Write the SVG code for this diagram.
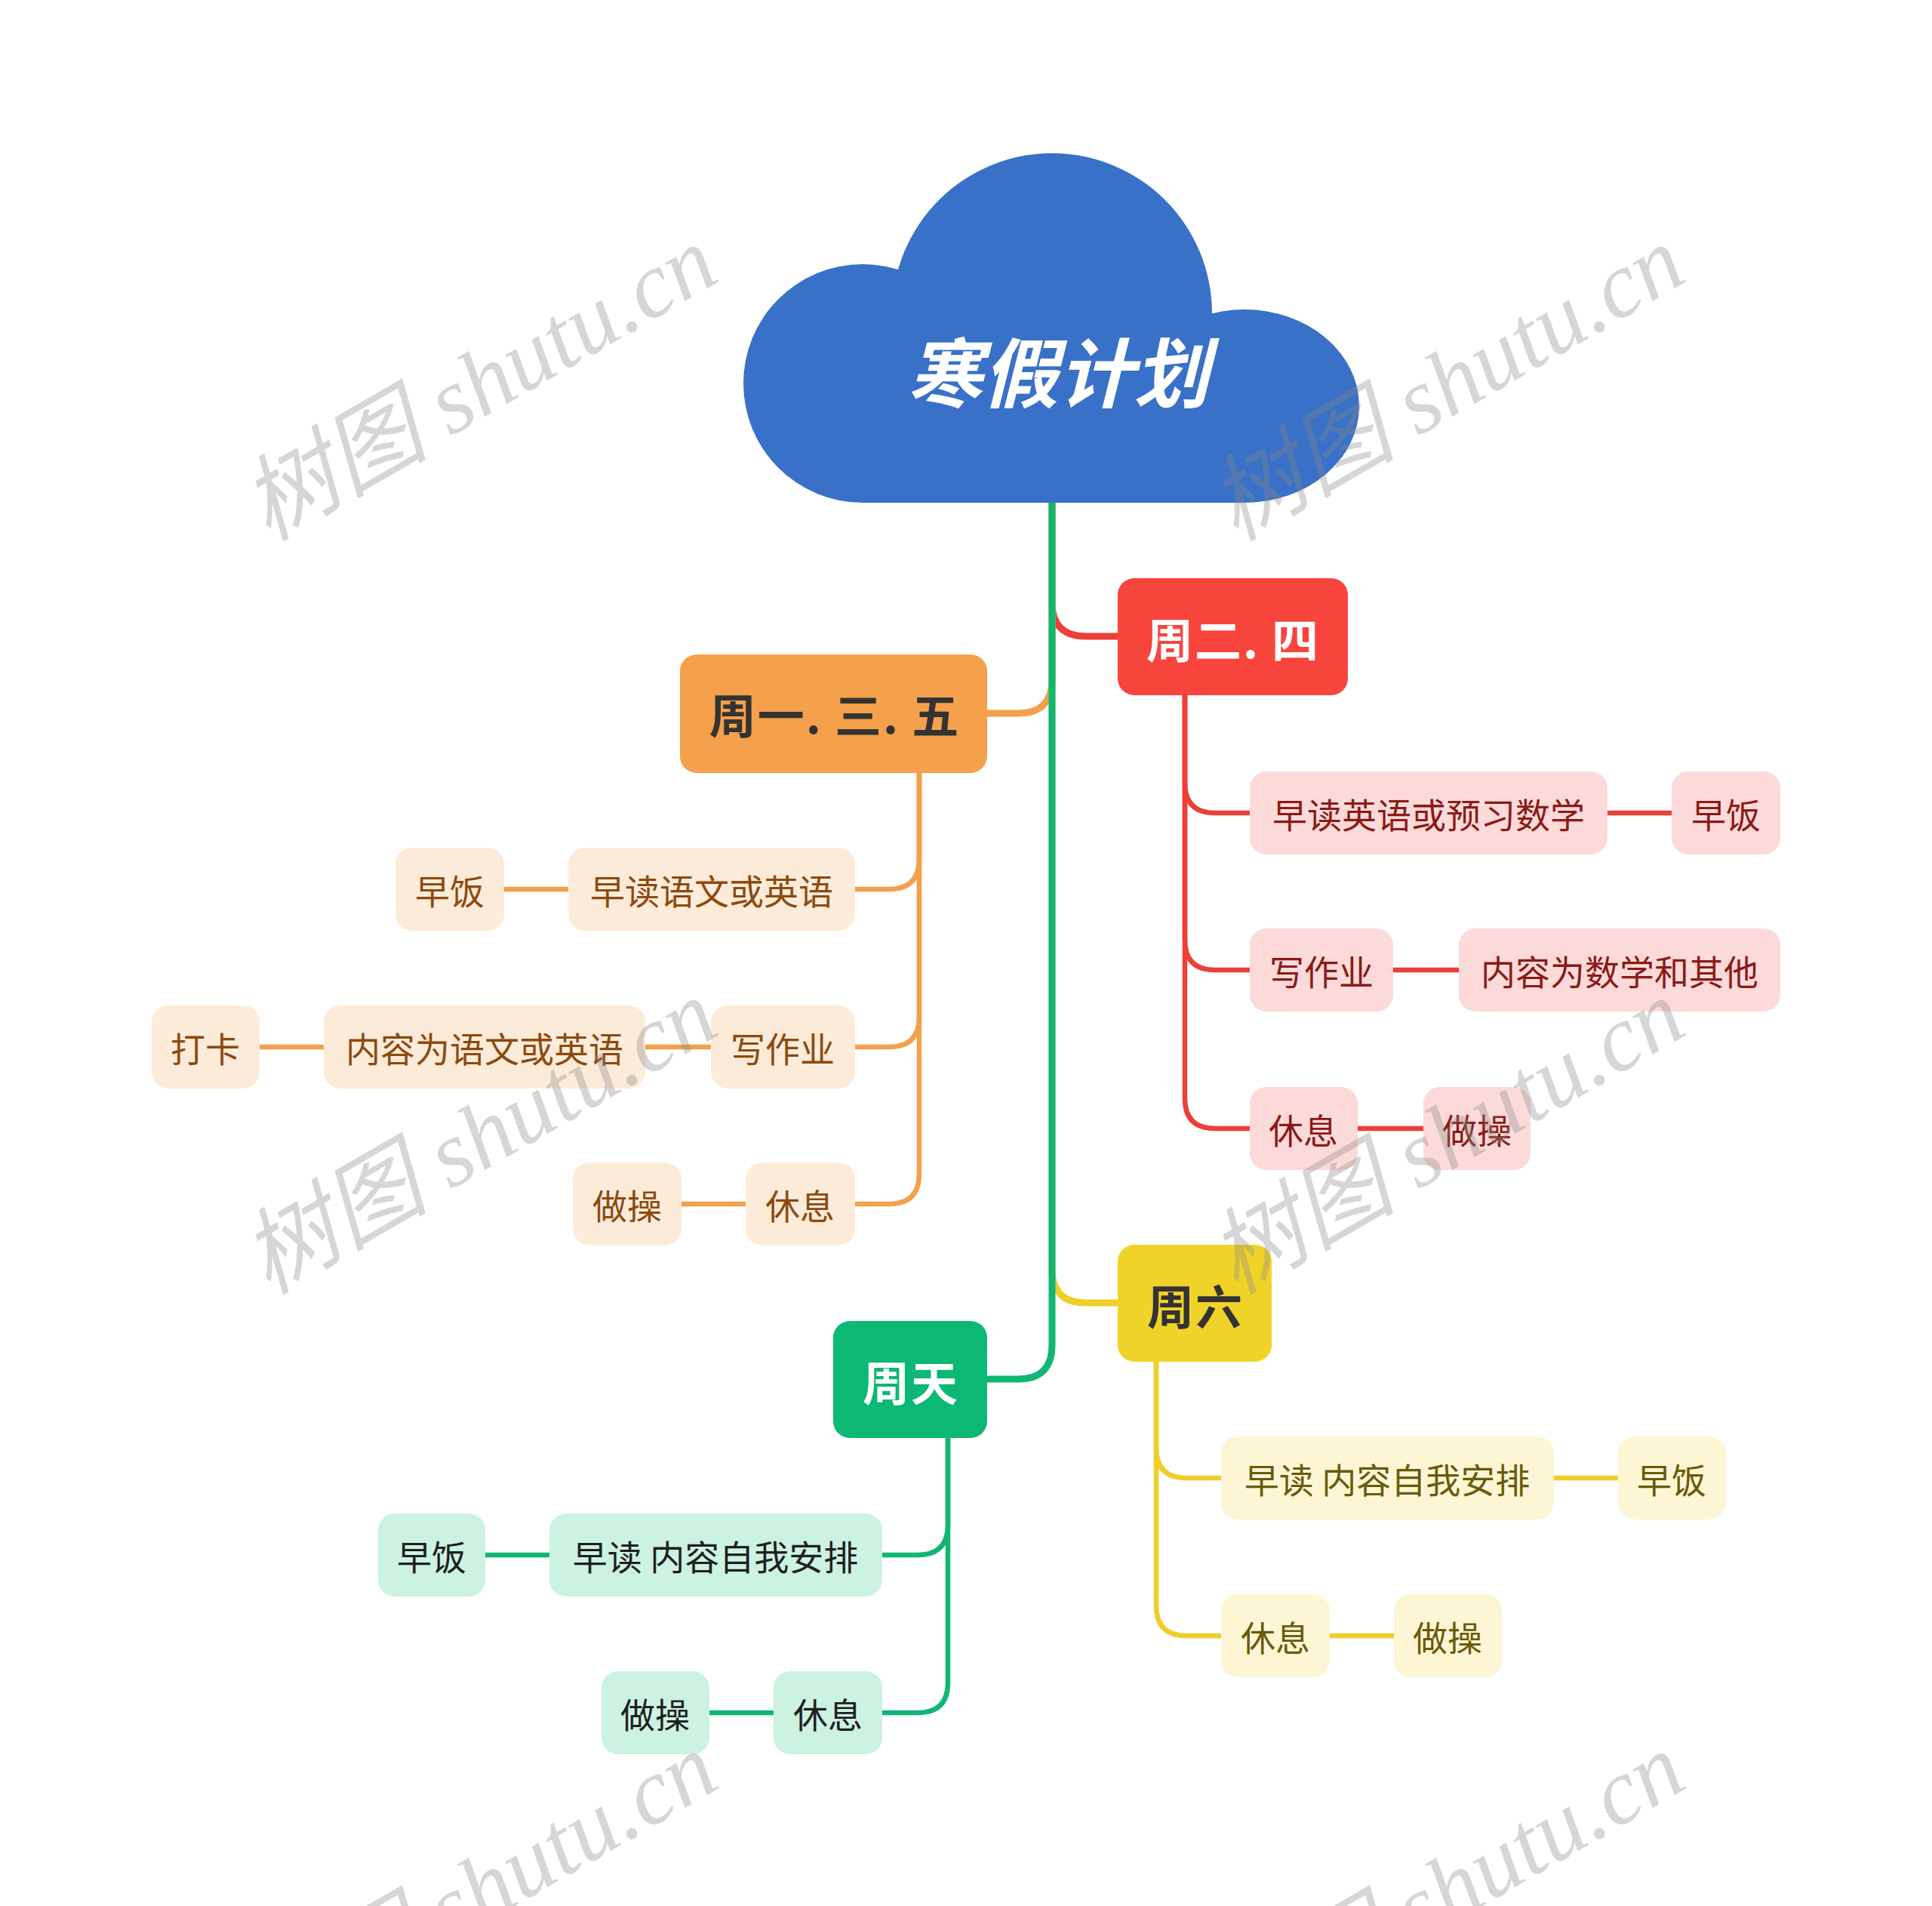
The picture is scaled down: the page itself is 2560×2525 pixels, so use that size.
<svg xmlns="http://www.w3.org/2000/svg" width="2560" height="2525" viewBox="0 0 2560 2525">
<style>
.l1{fill:none;stroke-width:9;stroke-linecap:butt;stroke-linejoin:round}
.l2{fill:none;stroke-width:6.5;stroke-linejoin:round}
.t1{font-family:"Noto Sans CJK SC",sans-serif;font-weight:700;font-size:62px;text-anchor:middle;dominant-baseline:central;letter-spacing:2px}
.t2{font-family:"Noto Sans CJK SC",sans-serif;font-weight:400;font-size:46px;text-anchor:middle;dominant-baseline:central}
.o{stroke:#F2A04C}.r{stroke:#EC3F38}.y{stroke:#EFCE27}.g{stroke:#10B673}
.on{fill:#FDEBDA}.ot{fill:#8C4A0E}
.rn{fill:#FCDADA}.rt{fill:#8B1A16}
.yn{fill:#FDF6D5}.yt{fill:#6A5A0A}
.gn{fill:#CCF2E2}.gt{fill:#1F1F1F}
.wm{font-family:"Liberation Serif","Noto Sans CJK SC",serif;font-style:italic;font-size:124px;fill:#8a8a8a;fill-opacity:0.35}
</style>
<rect width="2560" height="2525" fill="#FFFFFF"/>
<g id="connectors">
<path class="l1 r" d="M1394 666 V798 Q1394 843 1439 843 H1485"/>
<path class="l1 o" d="M1394 666 V900 Q1394 945 1349 945 H1304"/>
<path class="l1 y" d="M1394 666 V1681 Q1394 1726 1439 1726 H1485"/>
<path class="l1 g" d="M1394 660 V1782 Q1394 1827 1349 1827 H1304"/>
<path class="l2 o" d="M1218 1020 V1138 Q1218 1178 1178 1178 H1133"/>
<path class="l2 o" d="M1218 1020 V1347 Q1218 1387 1178 1387 H1133"/>
<path class="l2 o" d="M1218 1020 V1555 Q1218 1595 1178 1595 H1133"/>
<path class="l2 o" d="M668 1178 H753 M855 1387 H942 M344 1387 H429 M903 1595 H988"/>
<path class="l2 r" d="M1570 918 V1037 Q1570 1077 1610 1077 H1656"/>
<path class="l2 r" d="M1570 918 V1245 Q1570 1285 1610 1285 H1656"/>
<path class="l2 r" d="M1570 918 V1455 Q1570 1495 1610 1495 H1656"/>
<path class="l2 r" d="M2130 1077 H2215 M1846 1285 H1933 M1799 1495 H1886"/>
<path class="l2 y" d="M1532 1800 V1918 Q1532 1958 1572 1958 H1618"/>
<path class="l2 y" d="M1532 1800 V2127 Q1532 2167 1572 2167 H1618"/>
<path class="l2 y" d="M2059 1958 H2144 M1762 2167 H1847"/>
<path class="l2 g" d="M1256 1900 V2020 Q1256 2060 1216 2060 H1169"/>
<path class="l2 g" d="M1256 1900 V2229 Q1256 2269 1216 2269 H1169"/>
<path class="l2 g" d="M643 2060 H728 M940 2269 H1025"/>
</g>
<g id="root">
<g fill="#3871C7">
<circle cx="1143" cy="508" r="158"/>
<circle cx="1394" cy="415" r="212"/>
<ellipse cx="1649" cy="538" rx="152" ry="128"/>
<rect x="1143" y="480" width="506" height="186"/>
</g>
<text x="1402" y="488" font-family="Noto Sans CJK SC,sans-serif" font-weight="700" font-style="italic" font-size="100" fill="#FFFFFF" text-anchor="middle" dominant-baseline="central">寒假计划</text>
</g>
<g id="n-mon">
<rect x="901" y="867" width="407" height="157" rx="22" fill="#F5A04B"/>
<text class="t1" x="1106" y="945" fill="#333333">周一. 三. 五</text>
</g>
<g id="n-tue">
<rect x="1481" y="766" width="305" height="155" rx="22" fill="#F7443C"/>
<text class="t1" x="1634" y="845" fill="#FFFFFF">周二. 四</text>
</g>
<g id="n-sat">
<rect x="1481" y="1649" width="204" height="155" rx="22" fill="#F0D328"/>
<text class="t1" x="1584" y="1728" fill="#333333">周六</text>
</g>
<g id="n-sun">
<rect x="1104" y="1750" width="204" height="155" rx="22" fill="#0CB874"/>
<text class="t1" x="1207" y="1829" fill="#FFFFFF">周天</text>
</g>
<g id="o1"><rect class="on" x="753" y="1123" width="380" height="110" rx="22"/><text class="t2 ot" x="943" y="1178">早读语文或英语</text></g>
<g id="o1a"><rect class="on" x="524" y="1123" width="144" height="110" rx="22"/><text class="t2 ot" x="596" y="1178">早饭</text></g>
<g id="o2"><rect class="on" x="942" y="1332" width="191" height="110" rx="22"/><text class="t2 ot" x="1037" y="1387">写作业</text></g>
<g id="o2a"><rect class="on" x="429" y="1332" width="426" height="110" rx="22"/><text class="t2 ot" x="642" y="1387">内容为语文或英语</text></g>
<g id="o2b"><rect class="on" x="201" y="1332" width="143" height="110" rx="22"/><text class="t2 ot" x="272" y="1387">打卡</text></g>
<g id="o3"><rect class="on" x="988" y="1540" width="145" height="110" rx="22"/><text class="t2 ot" x="1060" y="1595">休息</text></g>
<g id="o3a"><rect class="on" x="759" y="1540" width="144" height="110" rx="22"/><text class="t2 ot" x="831" y="1595">做操</text></g>
<g id="r1"><rect class="rn" x="1656" y="1022" width="474" height="110" rx="22"/><text class="t2 rt" x="1893" y="1077">早读英语或预习数学</text></g>
<g id="r1a"><rect class="rn" x="2215" y="1022" width="144" height="110" rx="22"/><text class="t2 rt" x="2287" y="1077">早饭</text></g>
<g id="r2"><rect class="rn" x="1656" y="1230" width="190" height="110" rx="22"/><text class="t2 rt" x="1751" y="1285">写作业</text></g>
<g id="r2a"><rect class="rn" x="1933" y="1230" width="426" height="110" rx="22"/><text class="t2 rt" x="2146" y="1285">内容为数学和其他</text></g>
<g id="r3"><rect class="rn" x="1656" y="1440" width="143" height="110" rx="22"/><text class="t2 rt" x="1727" y="1495">休息</text></g>
<g id="r3a"><rect class="rn" x="1886" y="1440" width="142" height="110" rx="22"/><text class="t2 rt" x="1957" y="1495">做操</text></g>
<g id="y1"><rect class="yn" x="1618" y="1903" width="441" height="110" rx="22"/><text class="t2 yt" x="1838" y="1958">早读 内容自我安排</text></g>
<g id="y1a"><rect class="yn" x="2144" y="1903" width="143" height="110" rx="22"/><text class="t2 yt" x="2215" y="1958">早饭</text></g>
<g id="y2"><rect class="yn" x="1618" y="2112" width="144" height="110" rx="22"/><text class="t2 yt" x="1690" y="2167">休息</text></g>
<g id="y2a"><rect class="yn" x="1847" y="2112" width="143" height="110" rx="22"/><text class="t2 yt" x="1918" y="2167">做操</text></g>
<g id="g1"><rect class="gn" x="728" y="2005" width="441" height="110" rx="22"/><text class="t2 gt" x="948" y="2060">早读 内容自我安排</text></g>
<g id="g1a"><rect class="gn" x="501" y="2005" width="142" height="110" rx="22"/><text class="t2 gt" x="572" y="2060">早饭</text></g>
<g id="g2"><rect class="gn" x="1025" y="2214" width="144" height="110" rx="22"/><text class="t2 gt" x="1097" y="2269">休息</text></g>
<g id="g2a"><rect class="gn" x="797" y="2214" width="143" height="110" rx="22"/><text class="t2 gt" x="868" y="2269">做操</text></g>
<g id="watermarks">
<text class="wm" transform="translate(355 718) rotate(-30)">树图 shutu.cn</text>
<text class="wm" transform="translate(1637 718) rotate(-30)">树图 shutu.cn</text>
<text class="wm" transform="translate(355 1716) rotate(-30)">树图 shutu.cn</text>
<text class="wm" transform="translate(1637 1716) rotate(-30)">树图 shutu.cn</text>
<text class="wm" transform="translate(355 2714) rotate(-30)">树图 shutu.cn</text>
<text class="wm" transform="translate(1637 2714) rotate(-30)">树图 shutu.cn</text>
</g>
</svg>
